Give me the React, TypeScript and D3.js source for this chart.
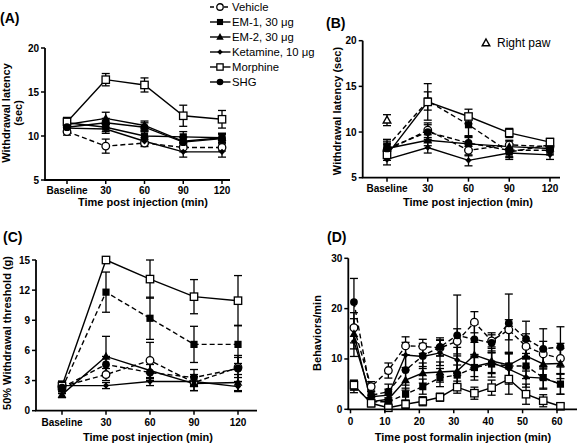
import React from "react";
import * as d3 from "d3";

// ---------- data ----------
const categories = ["Baseline", "30", "60", "90", "120"];
const seriesNames = ["Vehicle", "EM-1, 30 μg", "EM-2, 30 μg", "Ketamine, 10 μg", "Morphine", "SHG"];
const markerTypes = ["circleOpen", "square", "triangle", "diamond", "squareOpen", "circle"];

// Panel A: withdrawal latency (sec)
const aVehicle = [10.5, 8.85, 9.2, 8.7, 8.7];
const aVehicleErr = [0.4, 0.8, 0.4, 0.5, 0.4];
const aEM1 = [11.5, 11.0, 10.0, 9.9, 9.8];
const aEM1Err = [0.6, 0.5, 0.6, 0.6, 0.5];
const aEM2 = [11.3, 12.0, 11.2, 9.4, 9.8];
const aEM2Err = [0.5, 0.7, 0.5, 0.5, 0.5];
const aKetamine = [10.9, 10.8, 9.4, 8.2, 8.2];
const aKetamineErr = [0.5, 0.5, 0.4, 0.6, 0.6];
const aMorphine = [11.6, 16.4, 15.8, 12.3, 11.9];
const aMorphineErr = [0.5, 0.7, 0.8, 1.2, 1.0];
const aSHG = [11.0, 11.5, 11.0, 9.3, 9.7];
const aSHGErr = [0.5, 0.5, 0.5, 0.5, 0.5];

// Panel B: withdrawal latency (sec), right paw
const bVehicle = [8.0, 10.2, 8.0, 8.6, 8.4];
const bVehicleErr = [0.6, 0.8, 0.6, 0.5, 0.4];
const bEM1 = [8.4, 13.4, 10.8, 7.8, 8.6];
const bEM1Err = [0.8, 1.0, 1.2, 0.8, 0.5];
const bEM2 = [8.2, 9.1, 8.7, 8.4, 8.2];
const bEM2Err = [0.6, 0.6, 0.7, 0.6, 0.5];
const bKetamine = [7.0, 8.3, 6.9, 7.7, 7.5];
const bKetamineErr = [0.6, 0.6, 0.6, 0.5, 0.5];
const bMorphine = [7.5, 13.3, 11.7, 9.9, 8.9];
const bMorphineErr = [0.6, 2.0, 0.8, 0.5, 0.4];
const bSHG = [8.2, 10.0, 8.8, 8.0, 8.0];
const bSHGErr = [0.8, 0.8, 0.7, 0.7, 0.5];
const bRightPaw = 11.3;
const bRightPawErr = 0.6;

// Panel C: 50% withdrawal threshold (g)
const cVehicle = [2.4, 3.6, 5.0, 2.8, 4.3];
const cVehicleErr = [0.5, 0.6, 1.8, 0.8, 1.0];
const cEM1 = [2.2, 11.8, 9.2, 6.6, 6.6];
const cEM1Err = [0.5, 2.0, 2.1, 1.8, 1.9];
const cEM2 = [1.6, 5.4, 4.0, 2.7, 2.8];
const cEM2Err = [0.3, 2.0, 0.8, 0.7, 0.8];
const cKetamine = [2.5, 2.5, 2.9, 2.9, 2.4];
const cKetamineErr = [0.4, 0.3, 0.4, 0.5, 0.5];
const cMorphine = [2.45, 15.0, 13.1, 11.35, 10.95];
const cMorphineErr = [0.5, 0.0, 1.9, 1.7, 2.5];
const cSHG = [2.3, 4.6, 3.8, 3.3, 4.2];
const cSHGErr = [0.4, 0.8, 0.8, 0.8, 1.3];

// Panel D: behaviors/min after formalin
const dTimes = [1, 6, 11, 16, 21, 26, 31, 36, 41, 46, 51, 56, 61];
const dTicks = [0, 10, 20, 30, 40, 50, 60];
const dVehicle = [16.2, 4.5, 7.7, 12.6, 12.5, 12.2, 13.5, 17.3, 13.6, 15.8, 12.5, 11.0, 10.1];
const dVehicleErr = [3.0, 1.0, 1.5, 1.8, 1.4, 1.6, 2.5, 2.1, 1.2, 2.0, 2.5, 2.5, 3.0];
const dEM1 = [4.5, 1.5, 1.5, 3.0, 4.5, 6.3, 6.8, 8.3, 9.0, 8.6, 8.6, 6.3, 5.0];
const dEM1Err = [1.2, 0.8, 0.8, 1.2, 1.5, 1.8, 2.0, 2.5, 2.6, 2.5, 2.5, 2.3, 2.0];
const dEM2 = [15.0, 1.5, 2.0, 5.8, 7.2, 7.4, 7.6, 10.8, 9.6, 8.8, 10.6, 9.0, 9.1];
const dEM2Err = [3.0, 0.8, 1.0, 2.0, 2.0, 2.0, 3.0, 2.5, 2.5, 2.5, 3.0, 3.0, 3.0];
const dKetamine = [13.5, 2.5, 2.8, 10.8, 10.5, 11.2, 9.8, 8.5, 9.3, 8.0, 6.4, 6.2, 5.0];
const dKetamineErr = [3.0, 1.0, 1.2, 2.5, 2.0, 2.5, 2.5, 2.0, 2.0, 3.0, 2.0, 2.0, 2.0];
const dMorphine = [4.8, 1.2, 0.3, 1.0, 1.6, 2.4, 4.4, 3.2, 4.3, 6.0, 3.0, 1.7, 0.6];
const dMorphineErr = [1.0, 0.7, 0.4, 0.8, 0.9, 0.8, 1.2, 1.2, 1.5, 3.0, 2.0, 1.2, 0.5];
const dSHG = [21.3, 2.8, 3.5, 7.8, 10.6, 12.4, 14.7, 13.9, 13.2, 17.1, 14.0, 12.0, 12.4];
const dSHGErr = [4.7, 1.0, 1.5, 3.0, 2.5, 1.8, 8.0, 3.0, 2.0, 5.8, 3.5, 4.0, 4.0];

// ---------- helpers ----------
const FONT = "'Liberation Sans', Arial, Helvetica, sans-serif";

function Marker({ type, x, y, s = 1 }: { type: string; x: number; y: number; s?: number }) {
  const sw = 1.3;
  switch (type) {
    case "circleOpen":
      return <circle cx={x} cy={y} r={3.8 * s} fill="#fff" stroke="#000" strokeWidth={sw} />;
    case "circle":
      return <circle cx={x} cy={y} r={3.9 * s} fill="#000" />;
    case "square":
      return <rect x={x - 3.6 * s} y={y - 3.6 * s} width={7.2 * s} height={7.2 * s} fill="#000" />;
    case "squareOpen":
      return (
        <rect x={x - 3.7 * s} y={y - 3.7 * s} width={7.4 * s} height={7.4 * s} fill="#fff" stroke="#000" strokeWidth={sw} />
      );
    case "triangle":
      return <path d={`M${x},${y - 4.6 * s}L${x + 4.4 * s},${y + 3.2 * s}L${x - 4.4 * s},${y + 3.2 * s}Z`} fill="#000" />;
    case "triangleOpen":
      return (
        <path
          d={`M${x},${y - 4 * s}L${x + 3.8 * s},${y + 2.8 * s}L${x - 3.8 * s},${y + 2.8 * s}Z`}
          fill="#fff"
          stroke="#000"
          strokeWidth={1.4}
        />
      );
    case "diamond":
      return <path d={`M${x},${y - 3.2 * s}L${x + 3.2 * s},${y}L${x},${y + 3.2 * s}L${x - 3.2 * s},${y}Z`} fill="#000" />;
    default:
      return null;
  }
}

type Series = { vals: number[]; errs: number[]; marker: string; dashed: boolean };

type PanelCfg = {
  axisX: number;
  axisEndX: number;
  yTop: number;
  yBot: number;
  yDomain: [number, number];
  yTicks: number[];
  xPos: (i: number) => number;
  xTickPos: number[];
  xTickLabels: string[];
  tickLabelDy: number;
  titleDy: number;
  xTitle: string;
  xTitleX: number;
  yTitleLines: string[];
  yTitleXs: number[];
  yTitleY: number;
  label: string;
  labelX: number;
  labelY: number;
  series: Series[];
};

function Panel({ cfg }: { cfg: PanelCfg }) {
  const y = d3.scaleLinear().domain(cfg.yDomain).range([cfg.yBot, cfg.yTop]);
  const line = d3
    .line<number>()
    .x((_, i) => cfg.xPos(i))
    .y((v) => y(v));
  const capW = 4;
  return (
    <g>
      {cfg.series.map((s, si) =>
        s.vals.map((v, i) => {
          const e = s.errs[i];
          if (!e) return null;
          const x = cfg.xPos(i);
          const y1 = y(v + e);
          const y2 = y(Math.max(cfg.yDomain[0], v - e));
          return (
            <g key={`e${si}-${i}`} stroke="#000" strokeWidth={1.3}>
              <line x1={x} x2={x} y1={y1} y2={y2} />
              <line x1={x - capW} x2={x + capW} y1={y1} y2={y1} />
              {v - e > cfg.yDomain[0] && <line x1={x - capW} x2={x + capW} y1={y2} y2={y2} />}
            </g>
          );
        })
      )}
      {cfg.series.map((s, si) => (
        <path
          key={`l${si}`}
          d={line(s.vals) || ""}
          fill="none"
          stroke="#000"
          strokeWidth={1.4}
          strokeDasharray={s.dashed ? "5,3" : undefined}
        />
      ))}
      {cfg.series.map((s, si) =>
        s.vals.map((v, i) => <Marker key={`m${si}-${i}`} type={s.marker} x={cfg.xPos(i)} y={y(v)} />)
      )}
      <line x1={cfg.axisX} x2={cfg.axisX} y1={cfg.yTop} y2={cfg.yBot} stroke="#000" strokeWidth={1.8} />
      <line x1={cfg.axisX - 0.9} x2={cfg.axisEndX} y1={cfg.yBot} y2={cfg.yBot} stroke="#000" strokeWidth={1.8} />
      {cfg.yTicks.map((t) => (
        <g key={`yt${t}`}>
          <line x1={cfg.axisX - 4} x2={cfg.axisX} y1={y(t)} y2={y(t)} stroke="#000" strokeWidth={1.5} />
          <text x={cfg.axisX - 6} y={y(t)} dy="0.35em" textAnchor="end" fontFamily={FONT} fontWeight="bold" fontSize={10}>
            {t}
          </text>
        </g>
      ))}
      {cfg.xTickPos.map((xp, i) => (
        <g key={`xt${i}`}>
          <line x1={xp} x2={xp} y1={cfg.yBot} y2={cfg.yBot + 4} stroke="#000" strokeWidth={1.5} />
          <text
            x={xp}
            y={cfg.yBot + cfg.tickLabelDy}
            textAnchor="middle"
            fontFamily={FONT}
            fontWeight="bold"
            fontSize={10}
          >
            {cfg.xTickLabels[i]}
          </text>
        </g>
      ))}
      <text
        x={cfg.xTitleX}
        y={cfg.yBot + cfg.titleDy}
        textAnchor="middle"
        fontFamily={FONT}
        fontWeight="bold"
        fontSize={11}
      >
        {cfg.xTitle}
      </text>
      {cfg.yTitleLines.map((t, i) => (
        <text
          key={`yl${i}`}
          transform={`translate(${cfg.yTitleXs[i]},${cfg.yTitleY}) rotate(-90)`}
          textAnchor="middle"
          fontFamily={FONT}
          fontWeight="bold"
          fontSize={11}
        >
          {t}
        </text>
      ))}
      <text x={cfg.labelX} y={cfg.labelY} fontFamily={FONT} fontWeight="bold" fontSize={14}>
        {cfg.label}
      </text>
    </g>
  );
}

function mk(vals: number[][], errs: number[][], dashed: boolean[]): Series[] {
  return vals.map((v, i) => ({ vals: v, errs: errs[i], marker: markerTypes[i], dashed: dashed[i] }));
}

export default function App() {
  const xA = d3.scalePoint<string>().domain(categories).range([67, 222]);
  const xB = d3.scalePoint<string>().domain(categories).range([387, 550]);
  const xC = d3.scalePoint<string>().domain(categories).range([62, 238]);
  const xD = d3.scaleLinear().domain([0, 60]).range([350.5, 557]);

  const panelA: PanelCfg = {
    axisX: 45,
    axisEndX: 230,
    yTop: 48,
    yBot: 180,
    yDomain: [5, 20],
    yTicks: [5, 10, 15, 20],
    xPos: (i) => xA(categories[i]) as number,
    xTickPos: categories.map((c) => xA(c) as number),
    xTickLabels: categories,
    tickLabelDy: 13.5,
    titleDy: 26,
    xTitle: "Time post injection (min)",
    xTitleX: 143,
    yTitleLines: ["Withdrawal latency", "(sec)"],
    yTitleXs: [10, 21.5],
    yTitleY: 113,
    label: "(A)",
    labelX: 0,
    labelY: 23,
    series: mk(
      [aVehicle, aEM1, aEM2, aKetamine, aMorphine, aSHG],
      [aVehicleErr, aEM1Err, aEM2Err, aKetamineErr, aMorphineErr, aSHGErr],
      [true, false, false, false, false, false]
    ),
  };

  const panelB: PanelCfg = {
    axisX: 362.7,
    axisEndX: 560,
    yTop: 40.7,
    yBot: 177.7,
    yDomain: [5, 20],
    yTicks: [5, 10, 15, 20],
    xPos: (i) => xB(categories[i]) as number,
    xTickPos: categories.map((c) => xB(c) as number),
    xTickLabels: categories,
    tickLabelDy: 14,
    titleDy: 28,
    xTitle: "Time post injection (min)",
    xTitleX: 468,
    yTitleLines: ["Withdrawal latency (sec)"],
    yTitleXs: [341],
    yTitleY: 111,
    label: "(B)",
    labelX: 326,
    labelY: 28,
    series: mk(
      [bVehicle, bEM1, bEM2, bKetamine, bMorphine, bSHG],
      [bVehicleErr, bEM1Err, bEM2Err, bKetamineErr, bMorphineErr, bSHGErr],
      [true, true, false, false, false, true]
    ),
  };

  const panelC: PanelCfg = {
    axisX: 36,
    axisEndX: 257,
    yTop: 260,
    yBot: 410.7,
    yDomain: [0, 15],
    yTicks: [0, 3, 6, 9, 12, 15],
    xPos: (i) => xC(categories[i]) as number,
    xTickPos: categories.map((c) => xC(c) as number),
    xTickLabels: categories,
    tickLabelDy: 15,
    titleDy: 30.5,
    xTitle: "Time post injection (min)",
    xTitleX: 148,
    yTitleLines: ["50% Withdrawal threshold (g)"],
    yTitleXs: [11],
    yTitleY: 333,
    label: "(C)",
    labelX: 3,
    labelY: 242,
    series: mk(
      [cVehicle, cEM1, cEM2, cKetamine, cMorphine, cSHG],
      [cVehicleErr, cEM1Err, cEM2Err, cKetamineErr, cMorphineErr, cSHGErr],
      [true, true, false, false, false, true]
    ),
  };

  const panelD: PanelCfg = {
    axisX: 348.3,
    axisEndX: 577,
    yTop: 258.3,
    yBot: 409.3,
    yDomain: [0, 30],
    yTicks: [0, 10, 20, 30],
    xPos: (i) => xD(dTimes[i]),
    xTickPos: dTicks.map((t) => xD(t)),
    xTickLabels: dTicks.map((t) => String(t)),
    tickLabelDy: 15.5,
    titleDy: 31.5,
    xTitle: "Time post formalin injection (min)",
    xTitleX: 463,
    yTitleLines: ["Behaviors/min"],
    yTitleXs: [321],
    yTitleY: 333,
    label: "(D)",
    labelX: 327,
    labelY: 242,
    series: mk(
      [dVehicle, dEM1, dEM2, dKetamine, dMorphine, dSHG],
      [dVehicleErr, dEM1Err, dEM2Err, dKetamineErr, dMorphineErr, dSHGErr],
      [true, true, false, false, false, true]
    ),
  };

  const yB = d3.scaleLinear().domain([5, 20]).range([177.7, 40.7]);
  const legendY0 = 7;
  const legendStep = 15;

  return (
    <svg width={578} height={448} style={{ position: "absolute", left: 0, top: 0, background: "#fff" }}>
      <rect width={578} height={448} fill="#fff" />
      <Panel cfg={panelA} />
      <Panel cfg={panelB} />
      <Panel cfg={panelC} />
      <Panel cfg={panelD} />

      <g stroke="#000" strokeWidth={1.3}>
        <line x1={387} x2={387} y1={yB(bRightPaw + bRightPawErr)} y2={yB(bRightPaw - bRightPawErr)} />
        <line x1={383} x2={391} y1={yB(bRightPaw + bRightPawErr)} y2={yB(bRightPaw + bRightPawErr)} />
        <line x1={383} x2={391} y1={yB(bRightPaw - bRightPawErr)} y2={yB(bRightPaw - bRightPawErr)} />
      </g>
      <Marker type="triangleOpen" x={387} y={yB(bRightPaw)} />
      <Marker type="triangleOpen" x={486} y={43} />
      <text x={497} y={43} dy="0.35em" fontFamily={FONT} fontSize={12}>
        Right paw
      </text>

      {seriesNames.map((n, i) => {
        const ly = legendY0 + i * legendStep;
        return (
          <g key={`lg${i}`}>
            <line
              x1={210}
              x2={230.5}
              y1={ly}
              y2={ly}
              stroke="#000"
              strokeWidth={1.4}
              strokeDasharray={i === 0 ? "4,3" : undefined}
            />
            <Marker type={markerTypes[i]} x={220} y={ly} s={0.85} />
            <text x={232} y={ly} dy="0.35em" fontFamily={FONT} fontSize={11.3}>
              {n}
            </text>
          </g>
        );
      })}
    </svg>
  );
}
